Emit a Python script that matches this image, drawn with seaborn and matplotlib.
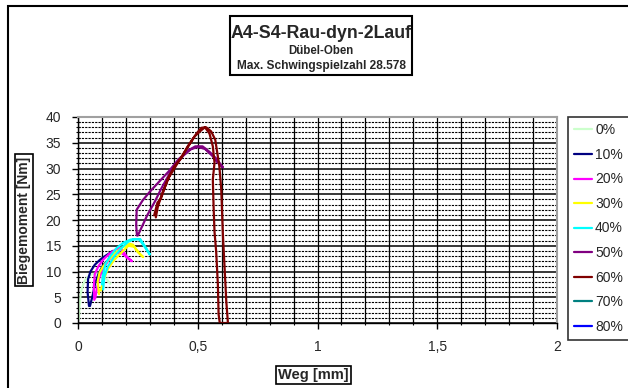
import numpy as np
import pandas as pd
import matplotlib.pyplot as plt
import seaborn as sns
from matplotlib.patches import Rectangle
from matplotlib.ticker import MultipleLocator, FuncFormatter

# -----------------------------------------------
# Data (Weg [mm] / Biegemoment [Nm])
# -----------------------------------------------
labels = ["0%", "10%", "20%", "30%", "40%", "50%", "60%", "70%", "80%"]
colors = ["#CCFFCC", "#000080", "#FF00FF", "#FFFF00", "#00FFFF",
          "#800080", "#800000", "#008080", "#0000FF"]

weg_0 = [0.004, 0.006, 0.011, 0.018, 0.028, 0.042, 0.06, 0.08, 0.10, 0.12, 0.135]
mom_0 = [0.8, 3.0, 5.6, 7.0, 8.2, 9.0, 9.5, 9.6, 9.3, 8.5, 7.6]

weg_10 = [0.046, 0.040, 0.042, 0.052, 0.070, 0.090, 0.110, 0.130, 0.145,
          0.140, 0.125, 0.105, 0.088, 0.072, 0.062, 0.050]
mom_10 = [3.3, 6.0, 8.5, 10.0, 11.3, 12.2, 12.9, 13.5, 14.0,
          13.2, 12.2, 11.2, 9.8, 7.8, 5.5, 3.3]

weg_20 = [0.068, 0.066, 0.070, 0.085, 0.105, 0.130, 0.155, 0.175, 0.190, 0.205,
          0.225, 0.210, 0.185, 0.160, 0.135, 0.110, 0.090, 0.078, 0.072]
mom_20 = [4.5, 7.0, 9.5, 11.0, 12.3, 13.4, 14.2, 14.6, 13.8, 12.8,
          12.0, 12.5, 13.5, 13.6, 12.6, 11.0, 9.0, 6.5, 4.8]

weg_30 = [0.088, 0.082, 0.090, 0.105, 0.130, 0.160, 0.190, 0.215, 0.230, 0.245,
          0.260, 0.272, 0.255, 0.235, 0.210, 0.180, 0.150, 0.125, 0.108, 0.095]
mom_30 = [5.6, 8.0, 9.8, 11.0, 12.4, 13.8, 14.8, 15.4, 15.2, 14.0,
          13.3, 12.8, 13.6, 14.8, 15.0, 13.6, 12.2, 10.5, 8.5, 6.3]

weg_40 = [0.105, 0.110, 0.125, 0.150, 0.180, 0.210, 0.235, 0.255, 0.275, 0.300,
          0.285, 0.260, 0.220, 0.190, 0.160, 0.135, 0.115, 0.105, 0.100]
mom_40 = [6.5, 9.0, 11.0, 12.8, 14.5, 15.8, 16.3, 16.3, 15.0, 13.3,
          14.5, 16.3, 16.2, 15.6, 14.5, 13.0, 11.5, 9.5, 7.5]

weg_50 = [0.250, 0.270, 0.290, 0.320, 0.350, 0.380, 0.410, 0.440, 0.470, 0.500,
          0.530, 0.560, 0.580, 0.605, 0.580, 0.550, 0.520, 0.490, 0.460, 0.420,
          0.380, 0.340, 0.300, 0.270, 0.245, 0.243, 0.246]
mom_50 = [17.0, 19.0, 21.0, 23.5, 26.3, 28.8, 30.8, 32.5, 33.7, 34.2,
          33.8, 32.5, 31.3, 30.2, 31.8, 33.2, 34.3, 34.3, 33.5, 31.8,
          29.5, 27.5, 25.5, 23.8, 22.0, 19.0, 17.0]

weg_60 = [0.318, 0.332, 0.346, 0.374, 0.402, 0.430, 0.458, 0.486, 0.514, 0.530,
          0.549, 0.563, 0.570, 0.563, 0.566, 0.570, 0.577, 0.584, 0.587, 0.592,
          0.626, 0.619, 0.612, 0.605, 0.598, 0.590, 0.573, 0.556, 0.535, 0.515,
          0.495, 0.470, 0.440, 0.410, 0.380, 0.350, 0.333, 0.325]
mom_60 = [20.9, 23.4, 24.1, 27.9, 30.4, 32.0, 34.3, 36.2, 37.4, 38.0,
          36.8, 34.3, 31.1, 27.9, 22.8, 17.7, 13.8, 7.5, 1.7, 0.0,
          0.0, 4.3, 10.8, 17.2, 26.0, 30.5, 35.6, 37.2, 38.0, 37.9,
          36.8, 35.0, 32.8, 30.6, 28.3, 25.0, 22.5, 20.5]

weg_70 = []
mom_70 = []
weg_80 = []
mom_80 = []

series_weg = [weg_0, weg_10, weg_20, weg_30, weg_40, weg_50, weg_60, weg_70, weg_80]
series_mom = [mom_0, mom_10, mom_20, mom_30, mom_40, mom_50, mom_60, mom_70, mom_80]

# -----------------------------------------------
# Style
# -----------------------------------------------
sns.set_theme(style="white")
plt.rcParams['font.family'] = ['Liberation Sans', 'DejaVu Sans']

fig = plt.figure(figsize=(6.28, 3.88), dpi=100)
ax = fig.add_axes([78 / 628, 1 - 323 / 388, (557 - 78) / 628, (323 - 117) / 388])
ax.set_facecolor("white")

# -----------------------------------------------
# Curves
# -----------------------------------------------
for w, m, lab, col in zip(series_weg, series_mom, labels, colors):
    if len(w) > 0:
        df = pd.DataFrame({"Weg": w, "Moment": m})
        sns.lineplot(data=df, x="Weg", y="Moment", sort=False, estimator=None,
                     color=col, lw=1.6, ax=ax, label=lab)
    else:
        ax.plot([], [], color=col, lw=1.6, label=lab)

# -----------------------------------------------
# Axes, grid, ticks
# -----------------------------------------------
ax.set_xlim(0, 2)
ax.set_ylim(0, 40)
ax.xaxis.set_major_locator(MultipleLocator(0.5))
ax.xaxis.set_minor_locator(MultipleLocator(0.1))
ax.yaxis.set_major_locator(MultipleLocator(5))
ax.yaxis.set_minor_locator(MultipleLocator(1))
ax.xaxis.set_major_formatter(FuncFormatter(lambda v, p: f"{v:g}".replace(".", ",")))

ax.grid(which="major", axis="x", color="black", lw=0.9, ls="-")
ax.grid(which="minor", axis="x", color="black", lw=0.9, ls="-")
ax.grid(which="major", axis="y", color="black", lw=1.1, ls="-")
ax.grid(which="minor", axis="y", color="black", lw=0.8, ls=(0, (2, 1)))
ax.set_axisbelow(True)

ax.tick_params(which="major", direction="out", length=4, width=1, color="black",
               labelsize=10, left=True, bottom=True, pad=8)
ax.tick_params(which="minor", direction="inout", length=3, width=0.8, color="black",
               left=True, bottom=True)

for s in ["left", "bottom"]:
    ax.spines[s].set_color("black")
    ax.spines[s].set_linewidth(1.0)
for s in ["top", "right"]:
    ax.spines[s].set_color("#A0A0A0")
    ax.spines[s].set_linewidth(1.5)

ax.set_xlabel("")
ax.set_ylabel("")

# axis titles in boxes
box = dict(boxstyle="square,pad=0.15", fc="white", ec="black", lw=1.2)
fig.text(313 / 628, 1 - 375 / 388, "Weg [mm]", ha="center", va="center",
         fontsize=10.5, fontweight="bold", bbox=box)
fig.text(24 / 628, 1 - 220 / 388, "Biegemoment [Nm]", ha="center", va="center",
         rotation=90, fontsize=10, fontweight="bold", bbox=box)

# -----------------------------------------------
# Title box
# -----------------------------------------------
fig.patches.append(Rectangle((230 / 628, 1 - 75 / 388), 182 / 628, 59 / 388,
                             transform=fig.transFigure, fill=False,
                             ec="black", lw=1.5))
fig.text(321 / 628, 1 - 33 / 388, "A4-S4-Rau-dyn-2Lauf", ha="center", va="center",
         fontsize=12.8, fontweight="bold")
fig.text(321 / 628, 1 - 51 / 388, "Dübel-Oben", ha="center", va="center",
         fontsize=8.3, fontweight="bold")
fig.text(321 / 628, 1 - 66 / 388, "Max. Schwingspielzahl 28.578", ha="center",
         va="center", fontsize=8.6, fontweight="bold")

# -----------------------------------------------
# Legend
# -----------------------------------------------
handles, labs = ax.get_legend_handles_labels()
leg = ax.legend(handles, labs, loc="upper left",
                bbox_to_anchor=(568 / 628, 1 - 117 / 388), bbox_transform=fig.transFigure,
                frameon=True, fancybox=False, fontsize=10, handlelength=1.25,
                handletextpad=0.25, labelspacing=0.76, borderpad=0.45,
                borderaxespad=0)
leg.get_frame().set_edgecolor("black")
leg.get_frame().set_linewidth(1.2)

# outer chart border
fig.patches.append(Rectangle((8 / 628, -0.05), 1.0, 1 - 6 / 388 + 0.05,
                             transform=fig.transFigure, fill=False,
                             ec="black", lw=1.5))

fig.savefig("out.png", dpi=100)
